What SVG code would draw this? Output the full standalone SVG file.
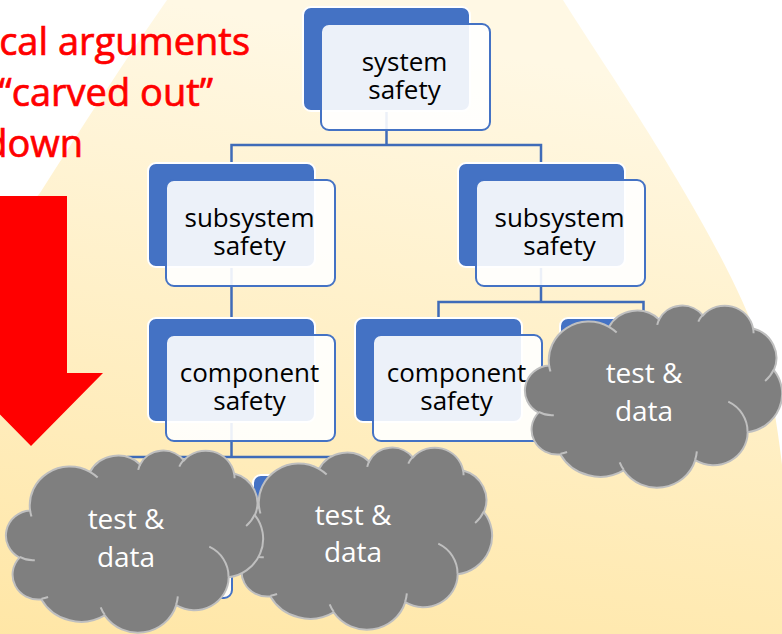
<svg xmlns="http://www.w3.org/2000/svg" width="782" height="634" viewBox="0 0 782 634">
  <defs>
    <linearGradient id="bgGrad" x1="0.2" y1="0" x2="0" y2="1">
      <stop offset="0" stop-color="#FFF8E4"/>
      <stop offset="1" stop-color="#FFE6A5"/>
    </linearGradient>
    <style>
      .back { fill: #4472C4; stroke: #FFFFFF; stroke-width: 2; }
      .front { fill: #FFFFFF; fill-opacity: 0.9; stroke: #4472C4; stroke-width: 2; }
      .label { font-family: "Open Sans", "Liberation Sans", sans-serif; font-size: 26px; fill: #000000; text-anchor: middle; }
      .conn { fill: none; stroke: #3F6BB8; stroke-width: 2.5; }
      .cloud-body { fill: #7F7F7F; stroke: #BFBFBF; stroke-width: 2; }
      .cloud-fold { fill: none; stroke: #BFBFBF; stroke-width: 2; }
      .cloud-label { font-family: "Open Sans", "Liberation Sans", sans-serif; font-size: 28px; fill: #FFFFFF; text-anchor: middle; }
      .title { font-family: "Open Sans", "Liberation Sans", sans-serif; font-size: 38px; fill: #FF0000; stroke: #FF0000; stroke-width: 0.7; text-anchor: end; }
    </style>
    <!-- cloud outline, 256 x 182 box -->
    <g id="cloud">
      <path class="cloud-body" d="M23.11,60.54 A40.02,38.72 0 0 1 83.00,21.92 A31.60,30.62 0 0 1 133.10,14.47 A25.87,25.05 0 0 1 176.82,10.47 A28.78,27.78 0 0 1 227.10,23.50 A31.60,30.64 0 0 1 247.84,65.15 A40.15,38.84 0 0 1 221.68,127.26 A34.28,33.14 0 0 1 169.24,155.11 A40.01,38.82 0 0 1 97.68,165.43 A45.75,44.42 0 0 1 34.41,149.43 A25.84,24.93 0 0 1 12.53,107.64 A25.75,25.05 0 0 1 23.11,60.54 Z"/>
      <path class="cloud-fold" d="M27.81,110.28 A25.75,25.05 0 0 1 12.80,106.93 M41.05,147.03 A25.84,24.93 0 0 1 34.48,148.64 M97.65,164.69 A40.01,38.82 0 0 1 93.69,157.36 M170.83,146.41 A40.01,38.82 0 0 1 169.24,154.45 M202.25,96.71 A34.28,33.14 0 0 1 221.52,126.77 M247.69,64.69 A31.60,30.64 0 0 1 239.11,75.96 M227.10,22.86 A28.78,27.78 0 0 1 227.55,28.18 M172.31,16.65 A28.78,27.78 0 0 1 176.71,9.86 M131.21,19.89 A25.87,25.05 0 0 1 133.33,14.03 M82.96,21.87 A40.02,38.72 0 0 1 90.67,27.56 M24.46,66.52 A40.02,38.72 0 0 1 23.11,60.54"/>
    </g>
  </defs>

  <!-- backdrop -->
  <rect x="0" y="0" width="782" height="634" fill="#FFFFFF"/>
  <path d="M167,0 L563,0 C600,60 720,230 760,345 C775,400 785,470 790,560 L790,644 L-10,644 L-10,300 C10,240 25,210 40,193 C80,130 125,60 167,0 Z" fill="url(#bgGrad)"/>

  <!-- heading -->
  <g id="heading">
    <text class="title" x="250" y="55">cal arguments</text>
    <text class="title" x="213" y="106">“carved out”</text>
    <text class="title" x="83" y="157">down</text>
  </g>

  <!-- downward arrow -->
  <polygon id="down-arrow" points="-5,196 67,196 67,373 103,373 31,446 -41,373 -5,373" fill="#FF0000"/>

  <!-- connectors -->
  <g id="connectors">
    <path class="conn" d="M386.5,110 V145"/>
    <path class="conn" d="M231.5,163 V145 H541 V163"/>
    <path class="conn" d="M231.5,267 V318"/>
    <path class="conn" d="M541,267 V302"/>
    <path class="conn" d="M438.5,318 V302 H643.5 V318"/>
    <path class="conn" d="M231.5,423 V457"/>
    <path class="conn" d="M128.5,475 V457 H336.5 V475"/>
  </g>

  <!-- nodes -->
  <g id="system-safety">
    <rect class="back" x="303" y="7" width="167" height="104" rx="8"/>
    <rect class="front" x="321" y="24" width="169" height="106" rx="8"/>
    <text class="label" x="404.5" y="71">system</text>
    <text class="label" x="404.5" y="99">safety</text>
  </g>
  <g id="subsystem-left">
    <rect class="back" x="148" y="163" width="167" height="104" rx="8"/>
    <rect class="front" x="166" y="180" width="169" height="106" rx="8"/>
    <text class="label" x="249.5" y="227">subsystem</text>
    <text class="label" x="249.5" y="255">safety</text>
  </g>
  <g id="subsystem-right">
    <rect class="back" x="458" y="163" width="167" height="104" rx="8"/>
    <rect class="front" x="476" y="180" width="169" height="106" rx="8"/>
    <text class="label" x="559.5" y="227">subsystem</text>
    <text class="label" x="559.5" y="255">safety</text>
  </g>
  <g id="component-left">
    <rect class="back" x="148" y="318" width="167" height="104" rx="8"/>
    <rect class="front" x="166" y="335" width="169" height="106" rx="8"/>
    <text class="label" x="249.5" y="382">component</text>
    <text class="label" x="249.5" y="410">safety</text>
  </g>
  <g id="component-right">
    <rect class="back" x="355" y="318" width="167" height="104" rx="8"/>
    <rect class="front" x="373" y="335" width="169" height="106" rx="8"/>
    <text class="label" x="456.5" y="382">component</text>
    <text class="label" x="456.5" y="410">safety</text>
  </g>
  <g id="component-far-right">
    <rect class="back" x="560" y="318" width="167" height="104" rx="8"/>
    <rect class="front" x="578" y="335" width="169" height="106" rx="8"/>
  </g>
  <g id="leaf-left">
    <rect class="back" x="45" y="475" width="167" height="104" rx="8"/>
    <rect class="front" x="63" y="492" width="169" height="106" rx="8"/>
  </g>
  <g id="leaf-right">
    <rect class="back" x="253" y="475" width="167" height="104" rx="8"/>
    <rect class="front" x="271" y="492" width="169" height="106" rx="8"/>
  </g>

  <!-- test & data clouds -->
  <g id="cloud-middle">
    <use href="#cloud" transform="translate(236,447)"/>
    <text class="cloud-label" x="353" y="525">test &amp;</text>
    <text class="cloud-label" x="353" y="562">data</text>
  </g>
  <g id="cloud-left">
    <use href="#cloud" transform="translate(7,450)"/>
    <text class="cloud-label" x="126" y="529">test &amp;</text>
    <text class="cloud-label" x="126" y="567">data</text>
  </g>
  <g id="cloud-right">
    <use href="#cloud" transform="translate(526,305)"/>
    <text class="cloud-label" x="644" y="383">test &amp;</text>
    <text class="cloud-label" x="644" y="421">data</text>
  </g>
</svg>
